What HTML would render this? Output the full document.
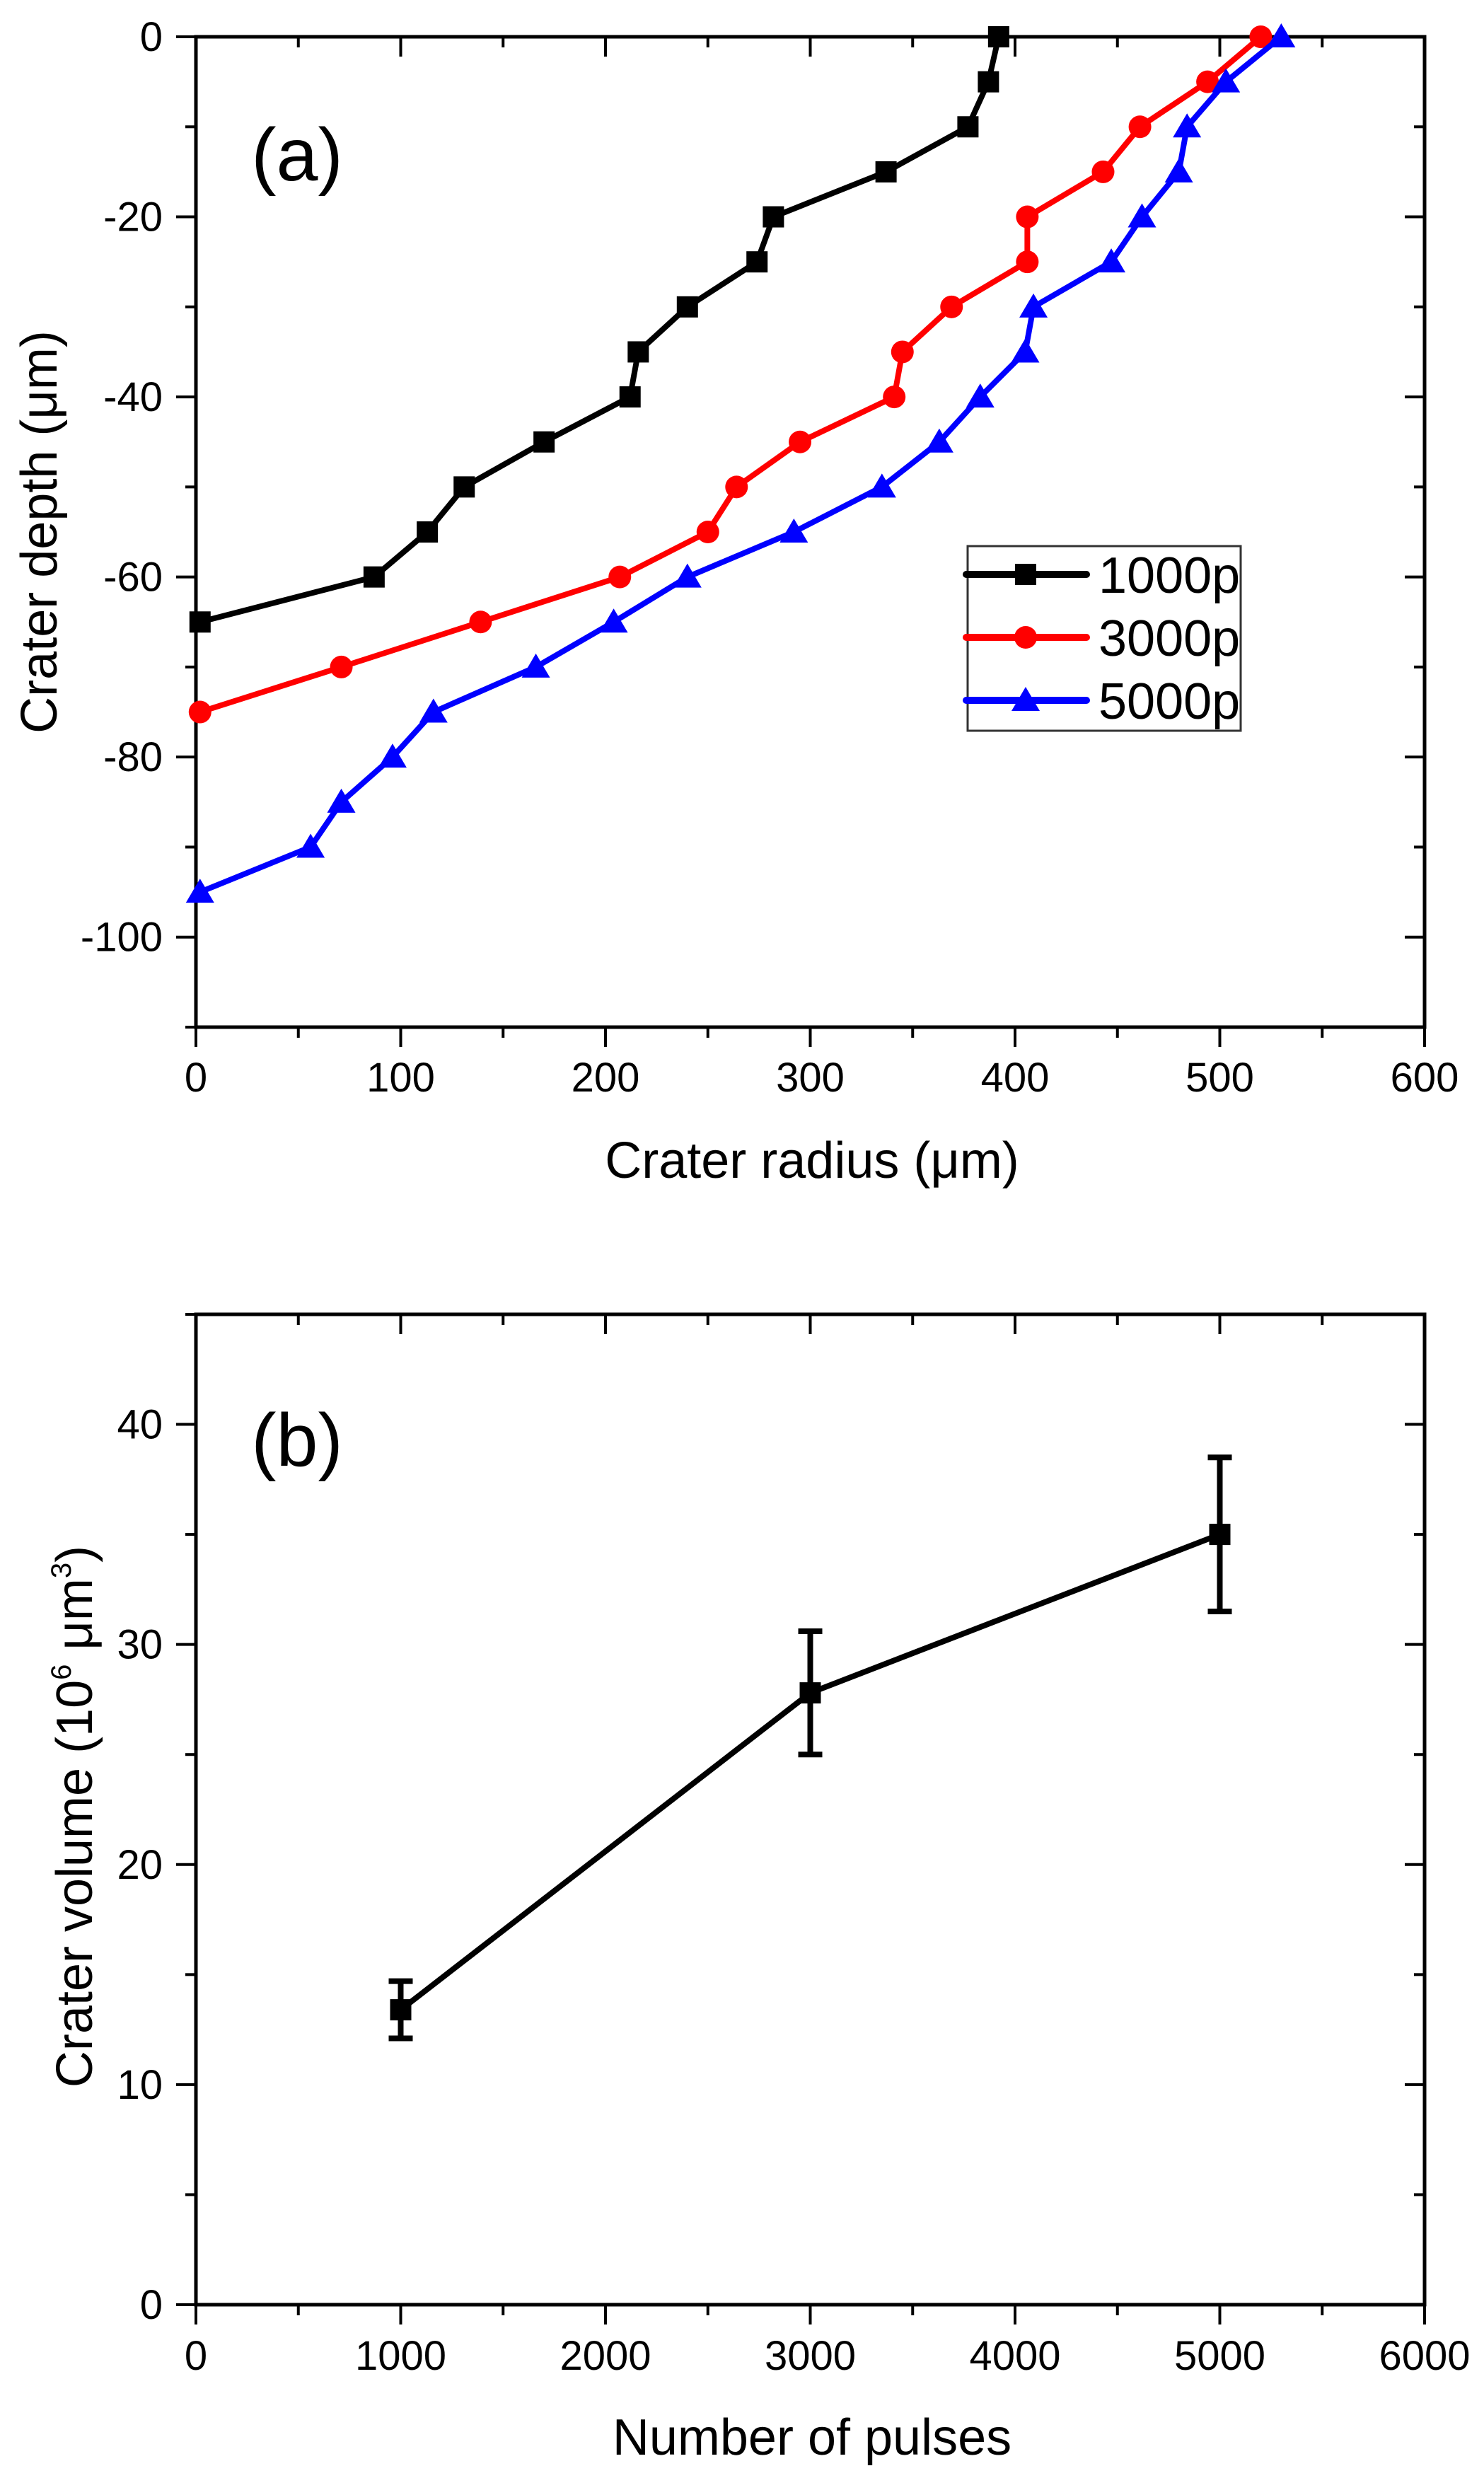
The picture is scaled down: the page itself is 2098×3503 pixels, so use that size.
<!DOCTYPE html>
<html><head><meta charset="utf-8"><style>
html,body{margin:0;padding:0;background:#fff;}
svg{display:block;font-family:"Liberation Sans",Arial,sans-serif;}
</style></head><body>
<svg id="fig" width="2098" height="3503" viewBox="0 0 2098 3503" xmlns="http://www.w3.org/2000/svg">
<g id="pa"></g>
<g id="pb"></g>
</svg>
<script>
// Panel (a) data
const depthLevels1 = [0,-5,-10,-15,-20,-25,-30,-35,-40,-45,-50,-55,-60,-65];
const radius1000 = [392,387,377,337,282,274,240,216,212,170,131,113,87,2];
const depthLevels3 = [0,-5,-10,-15,-20,-25,-30,-35,-40,-45,-50,-55,-60,-65,-70,-75];
const radius3000 = [520,494,461,443,406,406,369,345,341,295,264,250,207,139,71,2];
const depthLevels5 = [0,-5,-10,-15,-20,-25,-30,-35,-40,-45,-50,-55,-60,-65,-70,-75,-80,-85,-90,-95];
const radius5000 = [530,503,484,480,462,447,409,405,383,363,335,292,240,204,166,116,96,71,56,2];
const aXTicks = [0,100,200,300,400,500,600];
const aYTicks = [0,-20,-40,-60,-80,-100];
// Panel (b) data
const pulses = [1000,3000,5000];
const volumes = [13.4,27.8,35.0];
const volErrLow = [12.1,25.0,31.5];
const volErrHigh = [14.7,30.6,38.5];
const bXTicks = [0,1000,2000,3000,4000,5000,6000];
const bYTicks = [0,10,20,30,40];

const NS="http://www.w3.org/2000/svg";
function mk(parent,tag,attrs,text){const e=document.createElementNS(NS,tag);for(const k in attrs)e.setAttribute(k,attrs[k]);if(text!==undefined)e.textContent=text;parent.appendChild(e);return e;}

const L=277,R=2014;
const aTop=52,aBot=1452;
const ax=v=>L+(v-0)/600*(R-L);
const ay=v=>aTop+(0-v)/110*(aBot-aTop);
const bTop=1858,bBot=3258;
const bx=v=>L+v/6000*(R-L);
const by=v=>bBot-v/45*(bBot-bTop);

function frame(g,top,bot,xMinor,yMinor,xs,ys){
  xMinor.forEach(v=>{const X=xs(v.v);const len=v.major?28:15;
    let t=mk(g,'line',{x1:X,x2:X,y1:bot,y2:bot+len,stroke:'#000','stroke-width':4});
    
    
    let t2=mk(g,'line',{x1:X,x2:X,y1:top,y2:top+len,stroke:'#000','stroke-width':4});
    
    
  });
  yMinor.forEach(v=>{const Y=ys(v.v);const len=v.major?28:15;
    let t=mk(g,'line',{x1:L-len,x2:L,y1:Y,y2:Y,stroke:'#000','stroke-width':4});
    
    
    let t2=mk(g,'line',{x1:R-len,x2:R,y1:Y,y2:Y,stroke:'#000','stroke-width':4});
    
    
  });
  let r=mk(g,'rect',{x:L,y:top,width:R-L,height:bot-top,fill:'none',stroke:'#000','stroke-width':5});
  
  
}
function marker(g,type,x,y,color){
  let m;
  if(type==='s') m=mk(g,'rect',{x:x-15,y:y-15,width:30,height:30,fill:color});
  else if(type==='c') m=mk(g,'circle',{cx:x,cy:y,r:16,fill:color});
  else m=mk(g,'polygon',{points:`${x},${y-19} ${x+20},${y+15} ${x-20},${y+15}`,fill:color});
  
  
}

// ---- Panel A ----
const ga=document.getElementById('pa');
const axm=[];for(let v=0;v<=600;v+=50)axm.push({v,major:v%100===0});
const aym=[];for(let v=0;v>=-110;v-=10)aym.push({v,major:v%20===0});
frame(ga,aTop,aBot,axm,aym,ax,ay);
aXTicks.forEach(v=>{const t=mk(ga,'text',{x:ax(v),y:1543,'font-size':58,'text-anchor':'middle'},String(v));
  
  });
aYTicks.forEach(v=>{const t=mk(ga,'text',{x:230,y:ay(v)+20,'font-size':58,'text-anchor':'end'},String(v));
  
  });
let xt=mk(ga,'text',{x:1148,y:1665,'font-size':72,'text-anchor':'middle'},'Crater radius (μm)');


let yt=mk(ga,'text',{x:0,y:0,'font-size':72,'text-anchor':'middle',transform:`translate(80,752) rotate(-90)`},'Crater depth (μm)');


let pl=mk(ga,'text',{x:420,y:255,'font-size':106,'text-anchor':'middle'},'(a)');


const seriesA=[[radius1000,depthLevels1,'#000','s','series-1000p'],[radius3000,depthLevels3,'#f00','c','series-3000p'],[radius5000,depthLevels5,'#00f','t','series-5000p']];
seriesA.forEach(([xs,ys,col,typ,name])=>{
  const g=mk(ga,'g',{});
  
  
  const pts=xs.map((x,i)=>ax(x)+','+ay(ys[i])).join(' ');
  const pln=mk(g,'polyline',{points:pts,fill:'none',stroke:col,'stroke-width':8,'stroke-linejoin':'round'});
  
  
  xs.forEach((x,i)=>marker(g,typ,ax(x),ay(ys[i]),col));
});
const lg=mk(ga,'g',{});


let lb=mk(lg,'rect',{x:1368,y:772,width:386,height:261,fill:'#fff',stroke:'#333','stroke-width':3});


[['1000p','#000','s',812],['3000p','#f00','c',901],['5000p','#00f','t',990]].forEach(([lab,col,typ,y])=>{
  const e=mk(lg,'g',{});
  
  
  mk(e,'line',{x1:1366,x2:1536,y1:y,y2:y,stroke:col,'stroke-width':10,'stroke-linecap':'round'});
  marker(e,typ,1450,y,col);
  mk(e,'text',{x:1553,y:y+26,'font-size':72},lab);
});

// ---- Panel B ----
const gb=document.getElementById('pb');
const bxm=[];for(let v=0;v<=6000;v+=500)bxm.push({v,major:v%1000===0});
const bym=[];for(let v=0;v<=45;v+=5)bym.push({v,major:v%10===0});
frame(gb,bTop,bBot,bxm,bym,bx,by);
bXTicks.forEach(v=>{const t=mk(gb,'text',{x:bx(v),y:3350,'font-size':58,'text-anchor':'middle'},String(v));
  
  });
bYTicks.forEach(v=>{const t=mk(gb,'text',{x:230,y:by(v)+20,'font-size':58,'text-anchor':'end'},String(v));
  
  });
let bxt=mk(gb,'text',{x:1148,y:3470,'font-size':72,'text-anchor':'middle'},'Number of pulses');


let byt=mk(gb,'text',{x:0,y:0,'font-size':72,'text-anchor':'middle',transform:`translate(130,2568) rotate(-90)`});


mk(byt,'tspan',{},'Crater volume (10');
mk(byt,'tspan',{'font-size':40,dy:-30},'6');
mk(byt,'tspan',{dy:30},' μm');
mk(byt,'tspan',{'font-size':40,dy:-30},'3');
mk(byt,'tspan',{dy:30},')');
let plb=mk(gb,'text',{x:420,y:2072,'font-size':106,'text-anchor':'middle'},'(b)');


const gs=mk(gb,'g',{});


const bl=mk(gs,'polyline',{points:pulses.map((p,i)=>bx(p)+','+by(volumes[i])).join(' '),fill:'none',stroke:'#000','stroke-width':8});


pulses.forEach((p,i)=>{
  const X=bx(p);
  const eb=mk(gs,'g',{stroke:'#000','stroke-width':8});
  
  
  mk(eb,'line',{x1:X,x2:X,y1:by(volErrLow[i]),y2:by(volErrHigh[i])});
  mk(eb,'line',{x1:X-17,x2:X+17,y1:by(volErrLow[i]),y2:by(volErrLow[i])});
  mk(eb,'line',{x1:X-17,x2:X+17,y1:by(volErrHigh[i]),y2:by(volErrHigh[i])});
  marker(gs,'s',X,by(volumes[i]),'#000');
});
</script>
</body></html>
